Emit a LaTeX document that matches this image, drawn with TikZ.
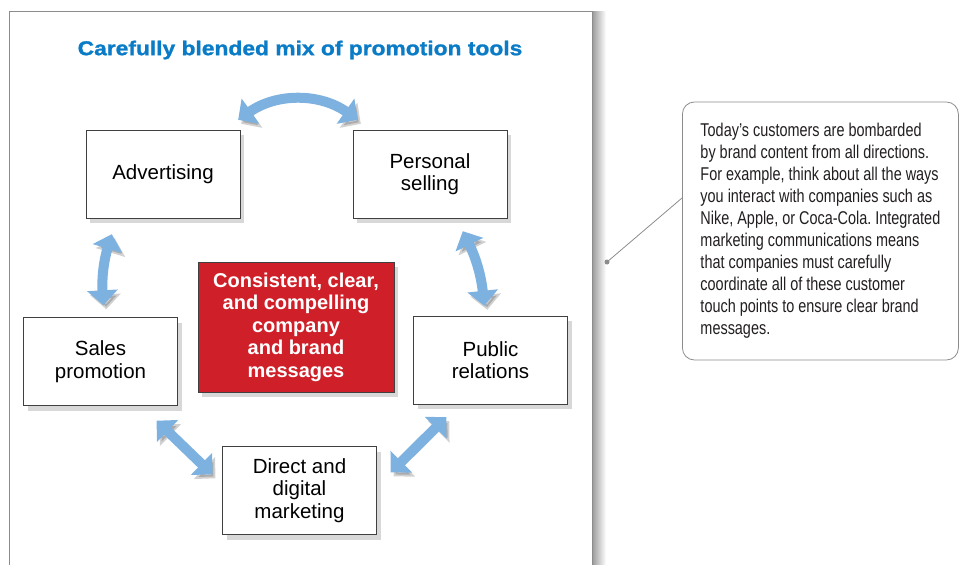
\documentclass[tikz,border=0pt]{standalone}
\usepackage{fontspec}
\setmainfont{Liberation Sans}
\frenchspacing
\newfontfamily\titlefont[FakeStretch=1.14, BoldFeatures={FakeBold=1.2}]{Liberation Sans}
\newfontfamily\notefont[FakeStretch=0.78]{Liberation Sans}
\usetikzlibrary{arrows.meta,shadows}
\definecolor{mixblue}{HTML}{0A7BC6}
\definecolor{arrowblue}{HTML}{7DB1E0}
\definecolor{corered}{HTML}{CF2029}
\definecolor{notetext}{HTML}{231F20}
\begin{document}
\begin{tikzpicture}[x=1pt, y=-1pt,
    tool/.style={draw=black!75, fill=white, minimum width=154pt, minimum height=88pt, align=center,
      font=\fontsize{20.5}{22.5}\selectfont, drop shadow={shadow xshift=4pt, shadow yshift=-5pt, opacity=0.3}},
    link/.style={arrowblue, line width=10pt, {Triangle[width=30pt,length=15pt]}-{Triangle[width=30pt,length=15pt]},
      preaction={draw=black, opacity=0.18, transform canvas={shift={(3pt,-4pt)}}}}]
  \useasboundingbox (0,0) rectangle (959,565);
  % page frame
  \shade[left color=black!40, right color=white] (592,11) rectangle (606,565);
  \draw[black!45, line width=1pt, fill=white] (9,565) -- (9,11) -- (592,11) -- (592,565);
  \node[font=\titlefont\bfseries\fontsize{20}{24}\selectfont, text=mixblue] (title) at (300,50) {Carefully blended mix of promotion tools};
  % tools
  \node[tool] (adv) at (163,174) {Advertising};
  \node[tool] (pers) at (430,174) {Personal\\selling};
  \node[tool] (sales) at (100.5,361.5) {Sales\\promotion};
  \node[tool] (pub) at (490.5,360) {Public\\relations};
  \node[tool] (direct) at (299.5,490.5) {Direct and\\digital\\marketing};
  \node[tool, fill=corered, text=white, font=\bfseries\fontsize{20}{22.5}\selectfont,
    minimum width=196pt, minimum height=130pt] (core) at (296,327) {Consistent, clear,\\and compelling\\company\\and brand\\messages};
  % arrows
  \draw[link] ([shift={(-2,-10)}]adv.north east) to[bend left=35] ([shift={(5,-10)}]pers.north west);
  \draw[link] ([shift={(26,16)}]adv.south west) to[bend right=10] ([shift={(80,-12)}]sales.north west);
  \draw[link] ([shift={(110,13)}]pers.south west) to[bend left=10] ([shift={(71,-10)}]pub.north west);
  \draw[link] ([shift={(-21,15)}]sales.south east) -- ([shift={(-10,28)}]direct.north west);
  \draw[link] ([shift={(33,13)}]pub.south west) -- ([shift={(14,26)}]direct.north east);
  % callout
  \node[draw=black!45, line width=0.8pt, rounded corners=12pt, fill=white, text=notetext,
    anchor=west, inner xsep=16pt, minimum width=276pt, minimum height=258pt, align=left,
    font=\notefont\fontsize{18.5}{22}\selectfont] (note) at (682,231)
    {Today’s customers are bombarded\\by brand content from all directions.\\For example, think about all the ways\\you interact with companies such as\\Nike, Apple, or Coca-Cola. Integrated\\marketing communications means\\that companies must carefully\\coordinate all of these customer\\touch points to ensure clear brand\\messages.};
  \coordinate (pin) at (607,262);
  \fill[black!45] (pin) circle (2.5pt);
  \draw[black!45, line width=0.8pt] (pin) -- ([shift={(0,-33)}]note.west);
\end{tikzpicture}
\end{document}
